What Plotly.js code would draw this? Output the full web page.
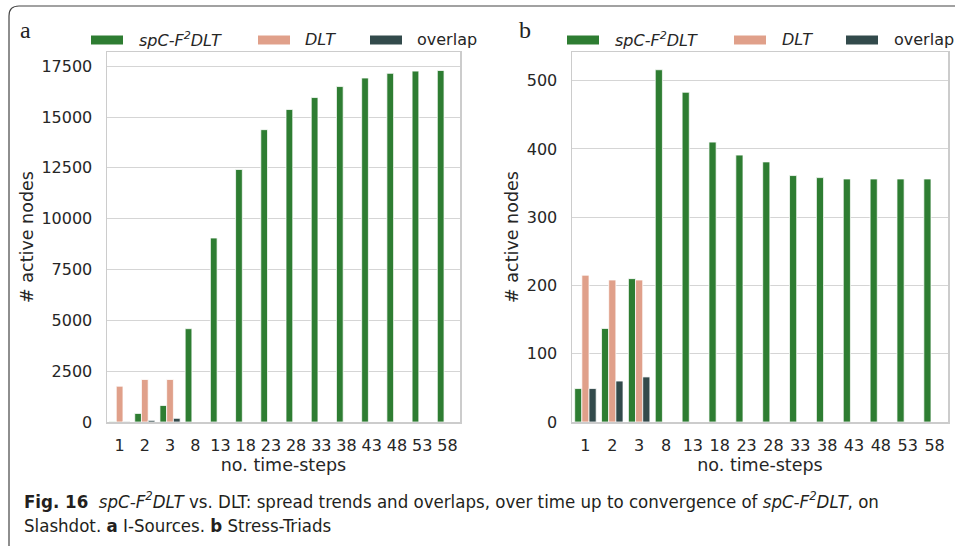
<!DOCTYPE html>
<html>
<head>
<meta charset="utf-8">
<script src="https://cdn.plot.ly/plotly-3.0.1.min.js"></script>
<style>html,body{margin:0;padding:0;background:#fff;}#chart{width:955px;height:546px;}</style>
</head>
<body>
<div id="chart"></div>
<script>
// ---- data ----
const categories = ['1','2','3','8','13','18','23','28','33','38','43','48','53','58'];
// Panel a: I-Sources
const spcA = [20, 420, 810, 4590, 9050, 12420, 14380, 15370, 15960, 16500, 16920, 17150, 17260, 17290];
const dltA = [1760, 2090, 2090, null, null, null, null, null, null, null, null, null, null, null];
const ovlA = [20, 80, 180, null, null, null, null, null, null, null, null, null, null, null];
// Panel b: Stress-Triads
const spcB = [49, 137, 210, 516, 483, 410, 391, 381, 361, 358, 356, 356, 356, 356];
const dltB = [215, 208, 208, null, null, null, null, null, null, null, null, null, null, null];
const ovlB = [49, 60, 66, null, null, null, null, null, null, null, null, null, null, null];
const yTicksA = [0, 2500, 5000, 7500, 10000, 12500, 15000, 17500];
const yTicksB = [0, 100, 200, 300, 400, 500];
const seriesNames = ['spC-F²DLT', 'DLT', 'overlap'];

// ---- style ----
const W = 955, H = 546;
const px = x => x / W, py = y => 1 - y / H;
const colors = ['#2e7d32', '#e0a08a', '#324a4b'];
const edge = {color: 'rgba(255,255,255,0.75)', width: 1};

function bar(y, i, xa, ya) {
  return {type: 'bar', x: categories, y: y, name: seriesNames[i], xaxis: xa, yaxis: ya,
    marker: {color: colors[i], line: edge}, hoverinfo: 'x+y+name'};
}
const data = [
  bar(spcA, 0, 'x', 'y'), bar(dltA, 1, 'x', 'y'), bar(ovlA, 2, 'x', 'y'),
  bar(spcB, 0, 'x2', 'y2'), bar(dltB, 1, 'x2', 'y2'), bar(ovlB, 2, 'x2', 'y2')
];

const gridc = '#d5d5d5';
function xax(dom, anchor) {
  return {domain: dom, anchor: anchor, type: 'category', showline: true, mirror: true,
    linecolor: '#cccccc', linewidth: 1.5, showgrid: false, ticks: '', ticklabelstandoff: 8,
    tickfont: {size: 16, color: '#262626'}, automargin: false, fixedrange: true,
    title: {text: 'no. time-steps', font: {size: 17.5, color: '#262626'}, standoff: 4}};
}
function yax(dom, anchor, range, tv) {
  return {domain: dom, anchor: anchor, range: range, tickvals: tv, ticktext: tv.map(String),
    showline: true, mirror: true, linecolor: '#cccccc', linewidth: 1.5,
    showgrid: true, gridcolor: gridc, gridwidth: 1, zeroline: false, ticks: '', ticklabelstandoff: 10,
    tickfont: {size: 16, color: '#262626'}, automargin: false, fixedrange: true,
    title: {text: '# active nodes', font: {size: 17.5, color: '#262626'}, standoff: 3}};
}
const ydom = [py(422), py(52)];

const shapes = [];
const annotations = [];
// legends (drawn as patches + labels)
const legA = [[91, 137], [258, 303], [370, 415]];
const legB = [[567, 613], [734, 780], [846, 892]];
const legLabels = ['<i>spC-F<sup>2</sup>DLT</i>', '<i>DLT</i>', 'overlap'];
[legA, legB].forEach(leg => {
  leg.forEach((p, i) => {
    shapes.push({type: 'rect', xref: 'paper', yref: 'paper', x0: px(p[0]), x1: px(p[0] + 32),
      y0: py(44.5), y1: py(35.5), fillcolor: colors[i], line: {width: 0}});
    annotations.push({xref: 'paper', yref: 'paper', x: px(p[1]), y: py(39.5), xanchor: 'left',
      yanchor: 'middle', showarrow: false, text: legLabels[i], font: {size: 16, color: '#262626'}});
  });
});
// panel letters
annotations.push({xref: 'paper', yref: 'paper', x: px(18), y: py(39), xanchor: 'left', yanchor: 'bottom',
  yshift: -6, showarrow: false, text: 'a', font: {family: 'Liberation Serif', size: 24, color: '#222'}});
annotations.push({xref: 'paper', yref: 'paper', x: px(517), y: py(39), xanchor: 'left', yanchor: 'bottom',
  yshift: -6, showarrow: false, text: 'b', font: {family: 'Liberation Serif', size: 24, color: '#222'}});
// caption
const capFont = {family: 'Liberation Sans Narrow, DejaVu Sans Condensed, sans-serif', size: 18.5, color: '#231f20'};
annotations.push({xref: 'paper', yref: 'paper', x: px(22), y: py(500), xanchor: 'left', yanchor: 'middle',
  showarrow: false, font: capFont,
  text: '<b>Fig. 16</b>  <i>spC-F<sup>2</sup>DLT</i> vs. DLT: spread trends and overlaps, over time up to convergence of <i>spC-F<sup>2</sup>DLT</i>, on'});
annotations.push({xref: 'paper', yref: 'paper', x: px(22), y: py(525), xanchor: 'left', yanchor: 'middle',
  showarrow: false, font: capFont, text: 'Slashdot. <b>a</b> I-Sources. <b>b</b> Stress-Triads'});
// figure border (left + top, rounded corner)
shapes.push({type: 'path', xref: 'paper', yref: 'paper', layer: 'above',
  path: `M ${px(9)} ${py(560)} L ${px(9)} ${py(16)} Q ${px(9)} ${py(6)} ${px(19)} ${py(6)} L ${px(970)} ${py(6)}`,
  line: {color: '#444', width: 1.2}});

const layout = {
  width: W, height: H, margin: {l: 0, r: 0, t: 0, b: 0}, paper_bgcolor: '#fff', plot_bgcolor: '#fff',
  font: {family: 'DejaVu Sans, sans-serif', color: '#262626'},
  barmode: 'group', bargap: 0.2, bargroupgap: 0, showlegend: false,
  xaxis: xax([px(107), px(460)], 'y'),
  yaxis: yax(ydom, 'x', [0, 18200], yTicksA),
  xaxis2: xax([px(572), px(948)], 'y2'),
  yaxis2: yax(ydom, 'x2', [0, 542], yTicksB),
  shapes: shapes, annotations: annotations
};
Plotly.newPlot('chart', data, layout, {displayModeBar: false, staticPlot: true});
</script>
</body>
</html>
